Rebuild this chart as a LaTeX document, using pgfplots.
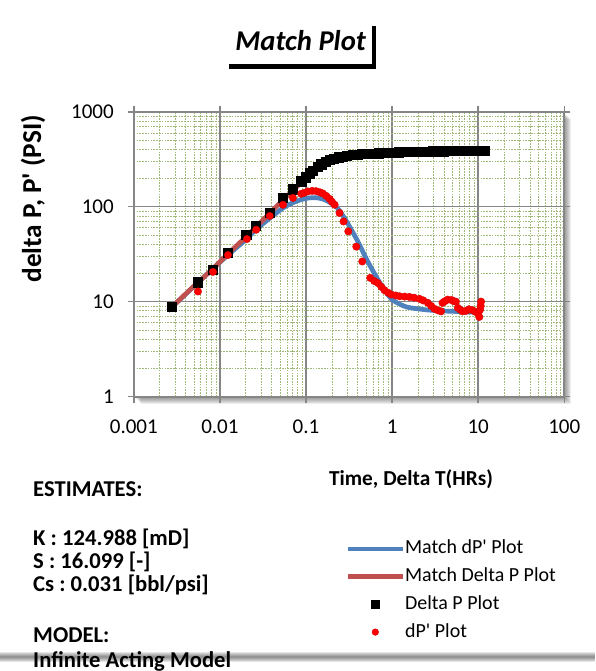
\documentclass[border=0pt]{standalone}
\usepackage{fontspec}
\setmainfont{Carlito}
\usepackage{pgfplots}
\pgfplotsset{compat=1.18}
\definecolor{matchblue}{HTML}{4F81BD}
\definecolor{matchred}{HTML}{C0504D}
\definecolor{gridgray}{RGB}{134,134,134}
\definecolor{minorgreen}{RGB}{160,185,120}
\pgfplotsset{
  lineimg/.style={legend image code/.code={\draw[##1] (0pt,0pt) -- (41.25pt,0pt);}},
  markimg/.style={legend image code/.code={\draw[##1, mark size=#1] plot coordinates {(20.6pt,0pt)};}},
}
\frenchspacing

\begin{document}
\begin{tikzpicture}
% frame in pixels of the reference, origin top left
\begin{scope}[x=0.75pt,y=-0.75pt]
  \useasboundingbox (0,0) rectangle (596,671);
  % shadow of the plot area
  \foreach \d in {1,...,7}{\fill[black,opacity=0.07] (134+\d,112+\d) rectangle (565+\d,397+\d);}
  % shadow at the bottom of the chart
  \foreach \d in {1,...,5}{\fill[black,opacity=0.1] (0,658-\d) rectangle (596,658+\d);}
\end{scope}

\begin{axis}[
  at={(100.5pt,-297.75pt)}, anchor=south west,
  scale only axis, width=323.25pt, height=213.75pt,
  xmode=log, ymode=log,
  xmin=0.001, xmax=100, ymin=1, ymax=1000,
  xtick={0.001,0.01,0.1,1,10,100},
  xticklabels={0.001,0.01,0.1,1,10,100},
  ytick={1,10,100,1000},
  yticklabels={1,10,100,1000},
  minor xtick={0.002,0.003,0.004,0.005,0.006,0.007,0.008,0.009,
    0.02,0.03,0.04,0.05,0.06,0.07,0.08,0.09,
    0.2,0.3,0.4,0.5,0.6,0.7,0.8,0.9,
    2,3,4,5,6,7,8,9,20,30,40,50,60,70,80,90},
  minor ytick={2,3,4,5,6,7,8,9,20,30,40,50,60,70,80,90,
    200,300,400,500,600,700,800,900},
  tick align=outside,
  major tick length=4.5pt, minor tick length=0pt,
  tick style={gridgray, line width=1.1pt},
  xmajorgrids, ymajorgrids, xminorgrids, yminorgrids,
  major grid style={gridgray, line width=1.1pt},
  minor grid style={minorgreen, line width=0.6pt, dash pattern=on 1.2pt off 0.9pt},
  axis line style={gridgray, line width=1.5pt},
  axis background/.style={fill=white},
  ticklabel style={font=\fontsize{15.8}{18}\selectfont},
  xticklabel style={yshift=-9.5pt},
  yticklabel style={xshift=-7pt},
  xlabel={Time, Delta T(HRs)},
  ylabel={delta P, P\textquotesingle{} (PSI)},
  xlabel style={font=\bfseries\fontsize{16}{19}\selectfont,
    at={(axis description cs:0.644,-0.291)}, anchor=center},
  ylabel style={font=\bfseries\fontsize{20.5}{24}\selectfont,
    at={(axis description cs:-0.234,0.695)}, anchor=center},
  legend cell align=left,
  legend style={at={(axis description cs:0.4919,-0.5018)}, anchor=north west,
    draw=none, fill=none, inner sep=0pt, outer sep=0pt,
    row sep=6.3pt, column sep=0pt,
    font=\fontsize{15}{18}\selectfont,
    nodes={inner sep=0pt, text height=11pt, text depth=3.5pt}},
]

\addplot[matchblue, line width=3.5pt, mark=none, smooth, lineimg]
  coordinates {
  (0.0025,8.0) (0.005,14.5) (0.01,26) (0.015,36) (0.02,45) (0.026,57)
  (0.038,76) (0.054,97) (0.07,110) (0.088,119) (0.11,124) (0.13,124.5)
  (0.155,121) (0.18,114) (0.224,100) (0.27,80) (0.32,62) (0.4,43)
  (0.5,28.5) (0.6,21) (0.714,16) (0.85,12.6) (1.0,10.5) (1.2,9.5)
  (1.46,8.8) (1.8,8.5) (2.48,8.2) (3.5,8.0) (5.06,7.9) (7,7.8) (10.5,7.7)
  };
\addlegendentry{Match dP\textquotesingle{} Plot}

\addplot[matchred, line width=3.5pt, mark=none, smooth, lineimg]
  coordinates {
  (0.0025,8.0) (0.003,9.4) (0.005,14.6) (0.008,21.5) (0.012,31) (0.02,48)
  (0.03,69) (0.05,110) (0.07,148) (0.1,200) (0.15,275) (0.2,310)
  (0.3,342) (0.5,360) (1,372) (2,380) (5,387) (11.8,392)
  };
\addlegendentry{Match Delta P Plot}

\addplot[only marks, mark=square*, mark size=3.5pt, black, markimg=2.8pt]
  coordinates {
  (0.00278,8.9) (0.00556,16.0) (0.0083,21.7) (0.0124,32.6) (0.0203,50.7)
  (0.026,63) (0.0379,87) (0.054,125) (0.0705,153) (0.088,185)
  (0.1,205) (0.11,226) (0.12,240) (0.137,266) (0.15,280) (0.17,298)
  (0.188,312) (0.21,322) (0.24,332) (0.266,338) (0.3,345) (0.35,352)
  (0.4,356) (0.45,359) (0.5,361) (0.6,364) (0.7,366) (0.8,368) (0.9,370)
  (1.0,372) (1.2,375) (1.4,377) (1.6,378) (1.8,379) (2,380) (2.3,381)
  (2.6,382) (3,383) (3.5,384) (4,385) (4.5,386) (5,387) (5.5,387)
  (6,388) (7,389) (8,390) (9,390) (10,391) (11,391) (11.8,392)
  };
\addlegendentry{Delta P Plot}

\addplot[only marks, mark=*, mark size=2.8pt, red,
  mark options={fill=red, draw=red!85!black, line width=0.3pt},
  markimg=2.5pt]
  coordinates {
  (0.00556,12.8) (0.0083,20.6) (0.0124,31) (0.0206,45.7) (0.0264,57.3)
  (0.0379,80) (0.054,105) (0.0705,124) (0.088,137) (0.095,140)
  (0.105,145) (0.118,147) (0.131,146) (0.145,142) (0.157,138) (0.172,130)
  (0.188,121) (0.2,113) (0.215,105) (0.245,86) (0.273,70) (0.31,55)
  (0.384,38) (0.45,26.5) (0.557,17.8) (0.62,16.5) (0.683,15.7) (0.75,14.3)
  (0.816,13.2) (0.9,12.4) (0.975,11.9) (1.1,11.6) (1.22,11.4) (1.4,11.3)
  (1.59,11.2) (1.8,11.0) (2.08,10.7) (2.3,10.3) (2.6,9.7) (2.85,9.0)
  (3.1,8.4) (3.4,8.1) (3.7,7.9) (3.85,9.7) (4.1,10.1) (4.43,10.5)
  (4.9,10.4) (5.2,10.1) (5.5,10.0) (5.8,8.6) (6.2,8.2) (6.6,7.9)
  (7.2,8.0) (7.8,8.3) (8.6,8.1) (9.3,7.8) (10.0,7.6) (10.3,6.9)
  (10.5,8.2) (10.7,9.0) (10.8,10.0)
  };
\addlegendentry{dP\textquotesingle{} Plot}
\end{axis}

\begin{scope}[x=0.75pt,y=-0.75pt]
  % title with its box edge
  \node[anchor=base, font=\bfseries\itshape\fontsize{21.5}{25}\selectfont, inner sep=0pt]
    at (301,50.7) {Match Plot};
  \draw[line width=3.75pt] (229,66.7) -- (376,66.7);
  \draw[line width=2.6pt] (374.5,26) -- (374.5,68.5);
  % estimates block
  \begin{scope}[every node/.style={anchor=base west, inner sep=0pt,
      font=\bfseries\fontsize{17}{20}\selectfont}]
    \node at (33,497) {ESTIMATES:};
    \node at (33,546) {K : 124.988 [mD]};
    \node at (33,569) {S : 16.099 [-]};
    \node at (33,592) {Cs : 0.031 [bbl/psi]};
    \node at (33,643) {MODEL:};
    \node at (33,668) {Infinite Acting Model};
  \end{scope}
\end{scope}
\end{tikzpicture}
\end{document}
